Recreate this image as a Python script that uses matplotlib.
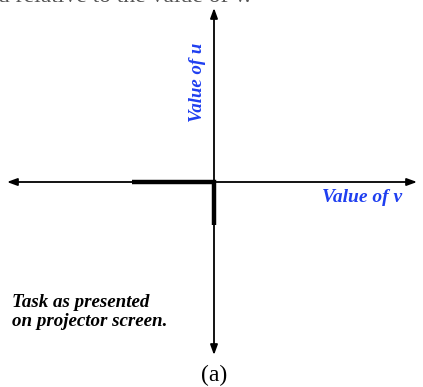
import matplotlib.pyplot as plt

# axis extents (origin at the crossing point, units ~ pixels)
v_axis = [-207, 203]
u_axis = [-173, 174]

# the thick L marker drawn from the origin
l_v = [-82, 0, 0]
l_u = [0, 0, -43]

u_label = 'Value of u'
v_label = 'Value of v'
note_text = 'Task as presented\non projector screen.'
panel_label = '(a)'
top_text = 'u relative to the value of v.'

serif = ['Liberation Serif', 'DejaVu Serif']
blue = '#1f3ff0'

fig = plt.figure(figsize=(4.23, 3.87), dpi=100)
ax = fig.add_axes([0, 0, 1, 1])
ax.set_xlim(-214, 209)
ax.set_ylim(-205, 182)
ax.axis('off')

arrow = dict(arrowstyle='<|-|>,head_length=0.6,head_width=0.22', lw=1.3, color='black',
             shrinkA=0, shrinkB=0)
ax.annotate('', xy=(v_axis[1], 0), xytext=(v_axis[0], 0), arrowprops=arrow)
ax.annotate('', xy=(0, u_axis[1]), xytext=(0, u_axis[0]), arrowprops=arrow)

ax.plot(l_v, l_u, color='black', lw=3.2, solid_capstyle='butt', solid_joinstyle='miter')

ax.text(-16, 100, u_label, rotation=90, ha='center', va='center', color=blue,
        fontsize=13.5, fontweight='bold', fontstyle='italic', family=serif)
ax.text(148, -16, v_label, ha='center', va='center', color=blue,
        fontsize=14, fontweight='bold', fontstyle='italic', family=serif)
ax.text(-202, -130, note_text, ha='left', va='center', color='black',
        fontsize=13.7, fontweight='bold', fontstyle='italic', family=serif, linespacing=1.1)
ax.text(0, -193, panel_label, ha='center', va='center', color='black',
        fontsize=17, family=serif)
ax.text(-216, 180, top_text, ha='left', va='baseline', color='#555555',
        fontsize=17, family=serif)

fig.savefig('out.png', dpi=100)
